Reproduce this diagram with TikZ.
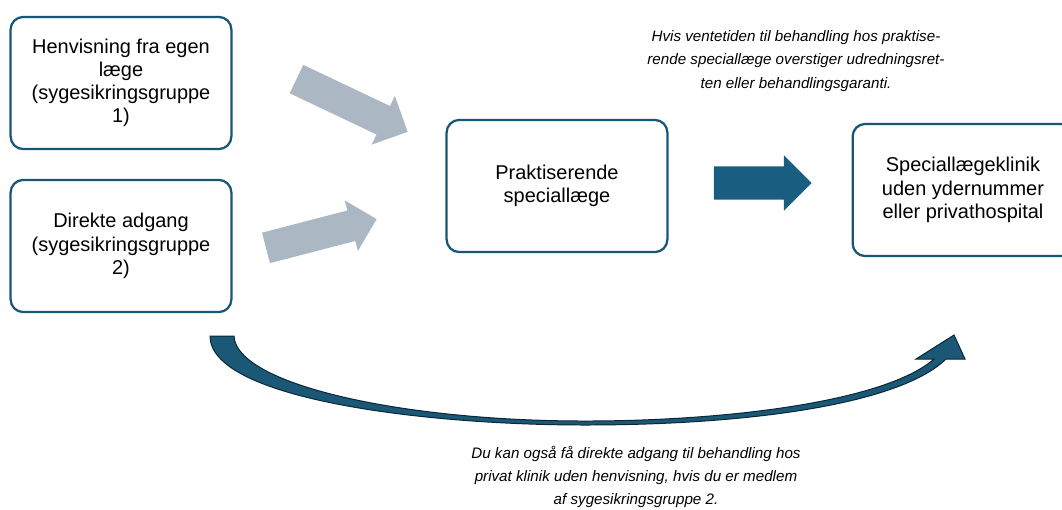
\documentclass[tikz,border=0pt]{standalone}
\usepackage{fontspec}
\setmainfont{Liberation Sans}
\usetikzlibrary{shapes.arrows}

\definecolor{boxblue}{RGB}{24,86,118}
\definecolor{arrowgrey}{RGB}{171,184,196}
\definecolor{arrowblue}{RGB}{25,94,128}
\definecolor{curveblue}{RGB}{26,88,118}
\definecolor{curveline}{RGB}{10,38,54}

\begin{document}
\begin{tikzpicture}[
x=0.025cm, y=-0.025cm,
box/.style={
    draw=boxblue, line width=1.6pt, rounded corners=9pt,
    minimum width=157pt, minimum height=94pt,
    align=center, inner sep=2pt,
    font=\fontsize{14.2}{16.5}\selectfont
},
note/.style={
    align=center,
    font=\fontsize{10.8}{16.6}\selectfont\itshape
},
blockarrow/.style={
    single arrow, draw=none, anchor=tip,
    inner xsep=0pt, inner ysep=11pt,
    single arrow head extend=8pt
}
]
\useasboundingbox (0,0) rectangle (1062,509);

% boxes
\node[box] (referral) at (121,83) {Henvisning fra egen\\læge\\(sygesikringsgruppe\\1)};
\node[box] (direct) at (121,246) {Direkte adgang\\(sygesikringsgruppe\\2)};
\node[box] (specialist) at (557,186) {Praktiserende\\speciallæge};
\node[box] (clinic) at (963,190) {Speciallægeklinik\\uden ydernummer\\eller privathospital};

% notes
\node[note] (waitnote) at (796,61) {Hvis ventetiden til behandling hos praktise-\\rende speciallæge overstiger udredningsret-\\ten eller behandlingsgaranti.};
\node[note] (directnote) at (636,477) {Du kan også få direkte adgang til behandling hos\\privat klinik uden henvisning, hvis du er medlem\\af sygesikringsgruppe 2.};

% block arrows
\node[blockarrow, fill=arrowgrey, rotate=-25.4, minimum height=87.5pt] (arrowone) at (408,132) {};
\node[blockarrow, fill=arrowgrey, rotate=14.6, minimum height=81.3pt,
      single arrow head extend=7.4pt] (arrowtwo) at (377,219) {};
\node[blockarrow, fill=arrowblue, minimum height=69.5pt, inner ysep=11.7pt,
      single arrow head extend=7.8pt] (arrowthree) at (812,183) {};

% curved arrow below
\filldraw[fill=curveblue, draw=curveline, line width=0.7pt, line join=miter]
    (210,336) .. controls (210,398) and (420,425) .. (585,425)
    .. controls (750,425) and (900,404) .. (946,359)
    -- (965,359) -- (954,335) -- (916,359) -- (934,359)
    .. controls (886,401) and (730,421) .. (585,421)
    .. controls (400,421) and (236,384) .. (234,336)
    -- cycle;
\end{tikzpicture}
\end{document}
